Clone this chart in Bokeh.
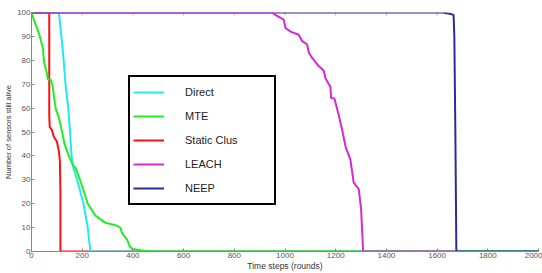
import math
from bokeh.plotting import figure
from bokeh.models import Legend, LegendItem, FixedTicker, Range1d
from bokeh.embed import file_html
from bokeh.resources import INLINE

# ---- data ----
direct_x = [0, 108, 113, 118, 127, 134, 145, 152, 158, 165, 180, 205, 222, 228, 233, 2000]
direct_y = [100, 100, 95, 90, 80, 70, 60, 50, 40, 35, 30, 20, 10, 4, 0, 0]

mte_x = [0, 9, 20, 33, 45, 49, 52, 62, 64, 75, 82, 95, 108, 121, 130, 147, 164, 174, 191, 207,
         222, 252, 292, 331, 351, 356, 362, 377, 388, 400, 430, 470, 2000]
mte_y = [100, 97, 94, 90, 85, 80, 78, 74, 72, 72, 70, 60, 56, 50, 45, 40, 36, 35, 30, 25,
         20, 15, 12, 11, 10, 8, 7, 5, 2, 1, 0.5, 0, 0]

static_x = [0, 70, 70, 72, 80, 88, 100, 108, 112, 114, 114, 2000]
static_y = [100, 100, 57, 52, 51, 48, 46, 42, 38, 25, 0, 0]

leach_x = [0, 949, 962, 995, 1002, 1022, 1054, 1068, 1087, 1094, 1107, 1133, 1153, 1160, 1173,
           1179, 1182, 1195, 1212, 1226, 1239, 1258, 1271, 1291, 1300, 1306, 1308, 1670]
leach_y = [100, 100, 99, 97, 93.5, 92, 90.7, 88, 86.7, 83.3, 81, 77.6, 75.6, 72.4, 70,
           69, 64.2, 64, 57, 50.6, 43.8, 38.4, 28.8, 26.1, 18, 5, 0, 0]

neep_x = [0, 1620, 1650, 1665, 1668, 1672, 1676, 2000]
neep_y = [100, 100, 99.5, 99, 90, 50, 0, 0]

x_ticks = list(range(0, 2001, 200))
y_ticks = list(range(0, 101, 10))
top_ticks = list(range(200, 1601, 200))
labels = ["Direct", "MTE", "Static Clus", "LEACH", "NEEP"]
colors = ["#22e8f0", "#22ee22", "#ff1010", "#d42ad4", "#2a2a9a"]

FONT = "Liberation Sans"

p = figure(width=542, height=273, output_backend="svg", toolbar_location=None,
           x_range=Range1d(0, 2000), y_range=Range1d(0, 100),
           min_border_left=31, min_border_right=4, min_border_top=12, min_border_bottom=16)
p.outline_line_color = None
p.xgrid.visible = False
p.ygrid.visible = False
p.background_fill_color = "white"
p.border_fill_color = "white"

for ax, ticks in ((p.xaxis[0], x_ticks), (p.yaxis[0], y_ticks)):
    ax.ticker = FixedTicker(ticks=ticks)
    ax.minor_tick_line_color = None
    ax.major_tick_in = 3
    ax.major_tick_out = 0
    ax.axis_line_color = "#888888"
    ax.major_tick_line_color = "#888888"
    ax.major_label_text_font = FONT
    ax.major_label_text_font_size = "8px"
    ax.major_label_text_color = "#555555"
    ax.major_label_standoff = 1
    ax.axis_label_text_font = FONT
    ax.axis_label_text_font_style = "normal"
    ax.axis_label_text_color = "#333333"

p.yaxis.axis_label = "Number of sensors still alive"
p.yaxis.axis_label_text_font_size = "7.5px"
p.yaxis.axis_label_standoff = 1

p.xaxis.axis_label = "Time steps (rounds)"
p.xaxis.axis_label_text_font_size = "8.5px"
p.xaxis.axis_label_standoff = 0

# small tick marks along the top edge
p.segment(x0=top_ticks, y0=[100] * len(top_ticks), x1=top_ticks, y1=[98.8] * len(top_ticks),
          line_color="#aaaaaa", line_width=1)

r_static = p.line(static_x, static_y, line_color=colors[2], line_width=2)
r_direct = p.line(direct_x, direct_y, line_color=colors[0], line_width=2)
r_mte = p.line(mte_x, mte_y, line_color=colors[1], line_width=2)
r_neep = p.line(neep_x, neep_y, line_color=colors[4], line_width=2)
r_leach = p.line(leach_x, leach_y, line_color=colors[3], line_width=2)

rend = [r_direct, r_mte, r_static, r_leach, r_neep]
legend = Legend(items=[LegendItem(label=l, renderers=[r]) for l, r in zip(labels, rend)],
                location=(97, 46))
legend.border_line_color = "black"
legend.border_line_alpha = 1
legend.border_line_width = 2
legend.background_fill_color = "white"
legend.background_fill_alpha = 1
legend.padding = 3
legend.spacing = 0
legend.margin = 0
legend.glyph_width = 31
legend.glyph_height = 24
legend.label_height = 24
legend.label_width = 86
legend.label_standoff = 21
legend.label_text_font = FONT
legend.label_text_font_size = "11px"
legend.label_text_color = "#222222"
p.add_layout(legend)

open("out.html", "w").write(file_html(p, INLINE))
